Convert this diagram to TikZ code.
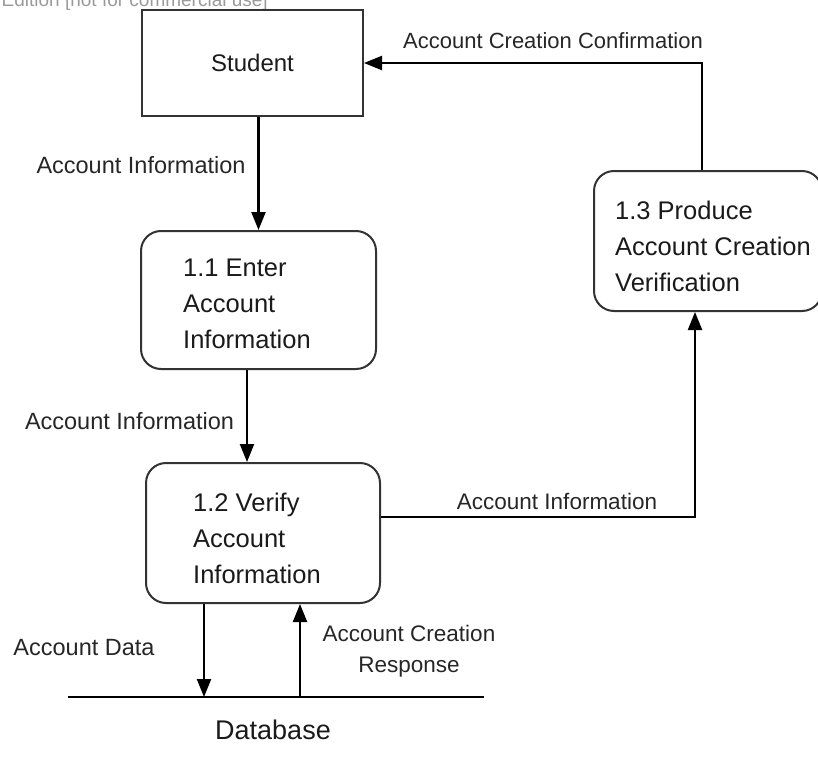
\documentclass[tikz,border=0pt]{standalone}
\usepackage{fontspec}
\setmainfont{Liberation Sans}
\usetikzlibrary{arrows.meta}
\definecolor{boxline}{HTML}{333333}
\definecolor{txtcol}{HTML}{1A1A1A}
\definecolor{lblcol}{HTML}{262626}
\definecolor{wmark}{HTML}{9A9A9A}
\begin{document}
\begin{tikzpicture}[x=1pt,y=-1pt,
  ext/.style={draw=boxline, line width=2pt, inner sep=0pt},
  proc/.style={draw=boxline, line width=2pt, rounded corners=20pt, inner sep=0pt},
  flow/.style={draw=black, line width=2.2pt, -{Triangle[length=18pt,width=14pt]}},
  plain/.style={draw=black, line width=2.2pt},
  lbl/.style={font=\fontsize{22.5}{31}\selectfont, text=lblcol, inner sep=0pt, align=center},
  ptext/.style={font=\fontsize{25.5}{36}\selectfont, text=txtcol, inner sep=0pt, align=left, anchor=west}]
\useasboundingbox (0,0) rectangle (818,781);
\clip (0,0) rectangle (818,781);

% watermark line at the top edge
\node[font=\fontsize{19}{22}\selectfont, text=wmark, anchor=base east, inner sep=0pt] (wm) at (268,7) {Edition [not for commercial use]};

% external entity
\node[ext, minimum width=221pt, minimum height=106pt, font=\fontsize{24}{28}\selectfont, text=txtcol] (stu) at (252.5,63) {Student};

% processes
\node[proc, minimum width=235pt, minimum height=138pt] (p11) at (258.5,300) {};
\node[ptext] (p11t) at (183,304) {1.1 Enter\\Account\\Information};

\node[proc, minimum width=234pt, minimum height=140pt] (p12) at (263,533) {};
\node[ptext] (p12t) at (193,538) {1.2 Verify\\Account\\Information};

\node[proc, minimum width=228pt, minimum height=140pt] (p13) at (708,241) {};
\node[ptext] (p13t) at (615,246) {1.3 Produce\\Account Creation\\Verification};

% data store
\coordinate (dbl) at (68,697);
\coordinate (dbr) at (484,697);
\draw[plain] (dbl) -- (dbr);
\node[font=\fontsize{27}{30}\selectfont, text=txtcol, inner sep=0pt] (db) at (273,730) {Database};

% data flows
\draw[flow] (stu.south -| p11.north) -- (p11.north);
\draw[flow] ([xshift=-11.5pt]p11.south) -- ([xshift=-11.5pt]p11.south |- p12.north);
\draw[flow] ([yshift=16pt]p12.east) -| ([xshift=-13pt]p13.south);
\draw[flow] ([xshift=-6pt]p13.north) |- (stu.east);
\draw[flow] ([xshift=-59pt]p12.south) -- ([xshift=-59pt]p12.south |- dbl);
\draw[flow] ([xshift=37pt]p12.south |- dbl) -- ([xshift=37pt]p12.south);

% flow labels
\node[lbl, font=\fontsize{23.5}{31}\selectfont] (l1) at (141,165) {Account Information};
\node[lbl, font=\fontsize{23.5}{31}\selectfont] (l2) at (129.5,421) {Account Information};
\node[lbl] (l3) at (557,501) {Account Information};
\node[lbl, font=\fontsize{22}{31}\selectfont] (l4) at (553,41) {Account Creation Confirmation};
\node[lbl, font=\fontsize{23.5}{31}\selectfont] (l5) at (84,648) {Account Data};
\node[lbl] (l6) at (409,651) {Account Creation\\Response};
\end{tikzpicture}
\end{document}
